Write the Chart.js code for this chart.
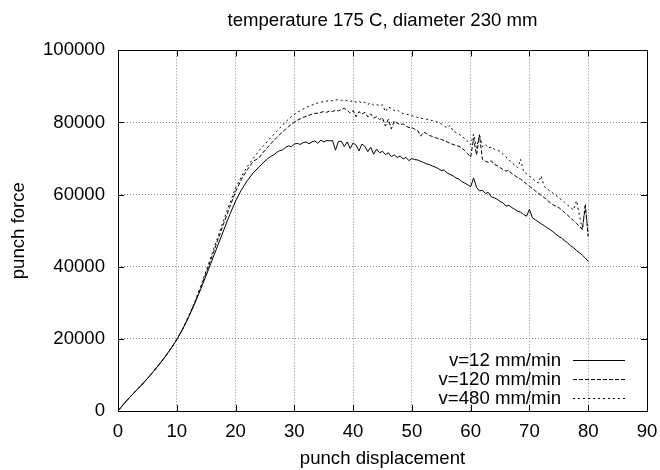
<!DOCTYPE html>
<html>
<head>
<meta charset="utf-8">
<script src="https://cdn.jsdelivr.net/npm/chart.js@4.4.1/dist/chart.umd.min.js"></script>
<style>
  body { margin: 0; background: #fff; }
  canvas { display: block; }
</style>
</head>
<body>
<canvas id="chart_force" width="660" height="470"></canvas>
<script>
let displacement = [
    0, 1, 2, 3, 4, 5, 6, 7, 8, 9,
    10, 11, 12, 13, 14, 15, 16, 17, 18, 19,
    20, 21, 22, 23,
    24, 24.5, 25, 25.5, 26, 26.5, 27, 27.5, 28, 28.5,
    29, 29.5, 30, 30.5, 31, 31.5, 32, 32.5, 33, 33.5,
    34, 34.5, 35, 35.5, 36, 36.5, 37, 37.5, 38, 38.5,
    39, 39.5, 40, 40.5, 41, 41.5, 42, 42.5, 43, 43.5,
    44, 44.5, 45, 45.5, 46, 46.5, 47, 47.5, 48, 48.5,
    49, 49.5, 50, 50.5, 51, 51.5, 52, 52.5, 53, 53.5,
    54, 54.5, 55, 55.5, 56, 56.5, 57, 57.5, 58, 58.5,
    59, 59.5, 60, 60.5, 61, 61.5, 62, 62.5, 63, 63.5,
    64, 64.5, 65, 65.5, 66, 66.5, 67, 67.5, 68, 68.5,
    69, 69.5, 70, 70.5, 71, 71.5, 72, 72.5, 73, 73.5,
    74, 74.5, 75, 75.5, 76, 76.5, 77, 77.5, 78, 78.5,
    79, 79.5, 80
];

let force_v12 = [
    0, 2000, 3800, 5500, 7200, 9000, 10900, 12900, 15000, 17300,
    19800, 22700, 26000, 29600, 33500, 37600, 41800, 46000, 50200, 54400,
    58200, 61300, 63900, 66000,
    67700, 68500, 69300, 70000, 70600, 71000, 71700, 72200, 72400, 73100,
    73500, 73300, 74000, 74200, 73900, 74400, 74600, 74100, 74600, 74900,
    74200, 75100, 74600, 75000, 74900, 75000, 72300, 74700, 74800, 73300,
    74600, 72800, 74300, 73700, 72100, 74000, 73400, 71900, 73100, 71200,
    72600, 71600, 72000, 71100, 71600, 70500, 71000, 70300, 70700, 69900,
    70300, 69400, 70000, 69700, 69600, 69200, 68900, 68500, 68300, 67900,
    67600, 67200, 66700, 66800, 66000, 65600, 65200, 64600, 64300, 63600,
    63200, 62700, 62200, 64600, 62000, 61000, 61200, 60300, 60600, 59400,
    59100, 58700, 58100, 57700, 56800, 57000, 56400, 55900, 55400, 55100,
    54500, 54000, 55900, 53600, 53000, 52500, 51900, 51400, 50800, 50300,
    49700, 49000, 48400, 47900, 47200, 46600, 45800, 45300, 44500, 43900,
    43200, 42400, 41500
];

let force_v120 = [
    0, 2000, 3800, 5500, 7200, 9000, 10900, 12900, 15000, 17300,
    19800, 22700, 26100, 29800, 33900, 38300, 42900, 47500, 52100, 56500,
    60800, 64200, 66900, 69200,
    70200, 71300, 72300, 73200, 74100, 75000, 75800, 76600, 77400, 78100,
    78800, 79500, 80100, 80600, 81000, 81400, 81700, 82000, 82300, 82500,
    82600, 82800, 83000, 82800, 83200, 83000, 83400, 83200, 83600, 83900,
    83400, 82600, 83300, 81600, 83000, 82300, 82800, 81500, 82400, 81200,
    81600, 80800, 81300, 79000, 80900, 78200, 80400, 79800, 79400, 79600,
    79000, 78600, 78600, 78100, 77700, 76200, 77300, 76900, 76400, 76100,
    75800, 75500, 75300, 75000, 74600, 74200, 73900, 73600, 73400, 72900,
    72200, 71300, 70400, 75600, 71000, 76600, 69800, 69300, 68900, 69400,
    68400, 68000, 67500, 66900, 66500, 66800, 65800, 65300, 64700, 64300,
    63600, 63000, 62300, 61700, 61000, 60400, 59800, 59200, 58500, 57800,
    57200, 56800, 56400, 55700, 55000, 54300, 53500, 52800, 52000, 51200,
    50300, 56700, 48800
];

let force_v480 = [
    0, 2000, 3800, 5500, 7200, 9000, 10900, 12900, 15000, 17300,
    19800, 22700, 26200, 30000, 34300, 38900, 43600, 48300, 53000, 57500,
    61800, 65000, 67800, 70000,
    72200, 73100, 74000, 74900, 75800, 76700, 77600, 78400, 79300, 80100,
    80900, 81600, 82200, 82800, 83300, 83700, 84100, 84500, 84800, 85100,
    85400, 85600, 85800, 85900, 86100, 86000, 86300, 86200, 86100, 86300,
    86000, 85800, 86100, 85600, 85900, 85300, 85600, 85000, 85400, 84800,
    85000, 84600, 84900, 83000, 84300, 83900, 83300, 83500, 82800, 82500,
    82300, 82100, 81900, 81600, 81400, 81200, 81000, 80900, 80700, 80500,
    80300, 80000, 79600, 79000, 78500, 79200, 77700, 77200, 76800, 76200,
    75500, 74700, 73800, 76800, 73000, 76500, 73300, 73900, 72900, 73200,
    72600, 72300, 72000, 71200, 70400, 69700, 68800, 68200, 67500, 69800,
    66400, 65800, 65100, 64500, 63800, 63200, 65200, 62300, 61600, 61000,
    60400, 59800, 59100, 58500, 57800, 57100, 56400, 55700, 58300, 54400,
    50200, 57500, 48000
];

let series_labels = ['v=12 mm/min', 'v=120 mm/min', 'v=480 mm/min'];
let series_dash = [[], [4, 2], [2, 3]];
let x_ticks_step = 10;
let y_ticks_step = 20000;

let FONT = "'Liberation Sans', Arial, Helvetica, sans-serif";
let FONT_SIZE = 18.6;

function points(ys) {
    return displacement.map((d, i) => ({ x: d, y: ys[i] }));
}

// gnuplot style frame with inward ticks on all four sides, plus the key
let frame_plugin = {
    id: 'frame',
    afterDraw(chart) {
        let ctx = chart.ctx;
        let a = chart.chartArea;
        let sx = chart.scales.x;
        let sy = chart.scales.y;
        ctx.save();
        ctx.strokeStyle = '#000';
        ctx.lineWidth = 1;
        ctx.setLineDash([]);
        ctx.strokeRect(Math.round(a.left) + 0.5, Math.round(a.top) + 0.5,
            Math.round(a.right - a.left), Math.round(a.bottom - a.top));
        ctx.beginPath();
        sx.ticks.forEach(t => {
            let px = Math.round(sx.getPixelForValue(t.value)) + 0.5;
            ctx.moveTo(px, a.bottom); ctx.lineTo(px, a.bottom - 6);
            ctx.moveTo(px, a.top); ctx.lineTo(px, a.top + 6);
        });
        sy.ticks.forEach(t => {
            let py = Math.round(sy.getPixelForValue(t.value)) + 0.5;
            ctx.moveTo(a.left, py); ctx.lineTo(a.left + 6, py);
            ctx.moveTo(a.right, py); ctx.lineTo(a.right - 6, py);
        });
        ctx.stroke();

        // key, bottom right inside the plot
        ctx.font = FONT_SIZE + 'px ' + FONT;
        ctx.fillStyle = '#000';
        ctx.textAlign = 'right';
        ctx.textBaseline = 'middle';
        chart.data.datasets.forEach((ds, i) => {
            let y = a.bottom - 51 + i * 19;
            ctx.fillText(ds.label, a.right - 86, y + 1);
            ctx.beginPath();
            ctx.setLineDash(ds.borderDash);
            ctx.moveTo(a.right - 74, Math.round(y) + 0.5);
            ctx.lineTo(a.right - 22, Math.round(y) + 0.5);
            ctx.stroke();
        });
        ctx.restore();
    }
};

let ctx_force = document.getElementById('chart_force');

let chart_force = new Chart(ctx_force, {
    type: 'line',
    data: {
        datasets: [force_v12, force_v120, force_v480].map((ys, i) => ({
            label: series_labels[i],
            data: points(ys),
            borderColor: '#000',
            borderWidth: 1,
            borderDash: series_dash[i],
            pointRadius: 0,
            tension: 0,
            fill: false
        }))
    },
    options: {
        responsive: false,
        maintainAspectRatio: false,
        animation: false,
        layout: { padding: { left: 0, right: 13, top: 0, bottom: 0 } },
        plugins: {
            legend: { display: false },
            tooltip: { enabled: false },
            title: {
                display: true,
                text: 'temperature 175 C, diameter 230 mm',
                fullSize: false,
                color: '#000',
                font: { family: FONT, size: FONT_SIZE, weight: 'normal' },
                padding: { top: 10, bottom: 18 }
            }
        },
        scales: {
            x: {
                type: 'linear',
                min: 0,
                max: 90,
                afterFit: s => {
                    s.height = 59;
                    // the "90" label may hang over the right margin
                    s.paddingLeft = 0;
                    s.paddingRight = 0;
                },
                ticks: {
                    stepSize: x_ticks_step,
                    autoSkip: false,
                    maxRotation: 0,
                    color: '#000',
                    font: { family: FONT, size: FONT_SIZE },
                    padding: 10
                },
                grid: { color: '#888', drawTicks: false },
                border: { display: false, dash: [1, 2] },
                title: {
                    display: true,
                    text: 'punch displacement',
                    color: '#000',
                    font: { family: FONT, size: FONT_SIZE },
                    padding: { top: 0, bottom: 0 }
                }
            },
            y: {
                min: 0,
                max: 100000,
                afterFit: s => { s.width = 118; },
                ticks: {
                    stepSize: y_ticks_step,
                    color: '#000',
                    font: { family: FONT, size: FONT_SIZE },
                    padding: 13,
                    callback: v => String(v)
                },
                grid: { color: '#888', drawTicks: false },
                border: { display: false, dash: [1, 2] },
                title: {
                    display: true,
                    text: 'punch force',
                    color: '#000',
                    font: { family: FONT, size: FONT_SIZE },
                    padding: { top: 8, bottom: 0 }
                }
            }
        }
    },
    plugins: [frame_plugin]
});
</script>
</body>
</html>
